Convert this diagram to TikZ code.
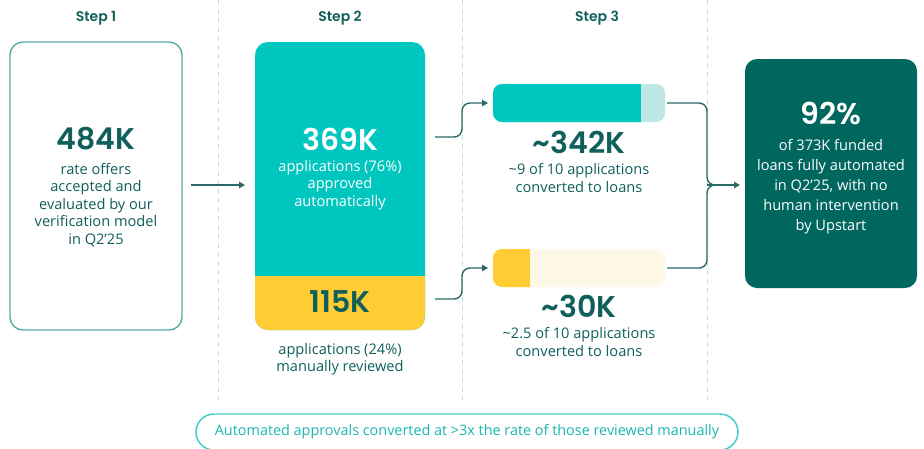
\documentclass[tikz,border=0pt]{standalone}
\usepackage{fontspec}
\setmainfont{Open Sans}
\newfontfamily\numfont{Poppins}[BoldFont=* SemiBold]
\usetikzlibrary{arrows.meta,calc}

\definecolor{tealmain}{HTML}{00C6C0}
\definecolor{tealpale}{HTML}{BFE7E5}
\definecolor{sunny}{HTML}{FFCC33}
\definecolor{cream}{HTML}{FEF8E6}
\definecolor{deepgreen}{HTML}{00675F}
\definecolor{inkteal}{HTML}{0F5F5B}
\definecolor{frameteal}{HTML}{5BA9A4}
\definecolor{linkteal}{HTML}{2A6966}
\definecolor{guide}{HTML}{B5E5E5}
\definecolor{pillteal}{HTML}{3CCBC8}
\definecolor{pilltext}{HTML}{1BB5B0}

\tikzset{
  panel/.style={rectangle, outer sep=0pt, inner sep=0pt, rounded corners=13pt},
  barbox/.style={rectangle, outer sep=0pt, inner sep=0pt, rounded corners=9pt,
    minimum width=172pt, minimum height=38pt},
  steplabel/.style={font=\numfont\bfseries\fontsize{14}{16}\selectfont, text=inkteal},
  bignum/.style={font=\numfont\bfseries\fontsize{30}{32}\selectfont, text=inkteal},
  body/.style={font=\fontsize{14.6}{17.5}\selectfont, text=inkteal, align=center},
  conn/.style={draw=linkteal, line width=1.4pt, rounded corners=8pt},
  tip/.style={-{Triangle[length=6pt,width=6.5pt]}},
  divider/.style={draw=guide, line width=0.9pt, dash pattern=on 5pt off 4pt},
}

\begin{document}
\begin{tikzpicture}[x=1pt,y=-1pt]
\useasboundingbox (0,0) rectangle (924,448);

% column dividers
\draw[divider] (218,0) -- (218,400);
\draw[divider] (462,0) -- (462,400);
\draw[divider] (707,0) -- (707,400);

% step headings
\node[steplabel] (h1) at (96,18) {Step 1};
\node[steplabel] (h2) at (340,18) {Step 2};
\node[steplabel] (h3) at (597,18) {Step 3};

% step 1 panel
\node[panel, draw=frameteal, line width=1.4pt, fill=white,
      minimum width=172pt, minimum height=288pt] (s1) at (96,186) {};
\node[bignum] (n1) at (96,139) {484K};
\node[body] (t1) at (96,205) {rate offers\\accepted and\\evaluated by our\\verification model\\in Q2’25};

% step 2 panel: automatic (teal) and manual (yellow) parts
\node[panel, fill=tealmain, minimum width=170pt, minimum height=288pt] (s2) at (340,186) {};
\begin{scope}
  \clip[rounded corners=13pt] (s2.north west) rectangle (s2.south east);
  \fill[sunny] (255,276) rectangle (425,331);
\end{scope}
\node[bignum, text=white] (n2) at (340,139) {369K};
\node[body, text=white] (t2) at (340,185) {applications (76\%)\\approved\\automatically};
\node[bignum] (n3) at (340,302) {115K};
\node[body] (t3) at (340,359) {applications (24\%)\\manually reviewed};

% step 3 conversion bars
\node[barbox, fill=tealpale] (b1) at (579,103) {};
\begin{scope}
  \clip[rounded corners=9pt] (b1.north west) rectangle (b1.south east);
  \fill[tealmain] (493,80) rectangle (641,126);
\end{scope}
\node[bignum] (n4) at (579,142) {\textasciitilde342K};
\node[body] (t4) at (579,178) {\textasciitilde9 of 10 applications\\converted to loans};

\node[barbox, fill=cream] (b2) at (579,268) {};
\begin{scope}
  \clip[rounded corners=9pt] (b2.north west) rectangle (b2.south east);
  \fill[sunny] (493,245) rectangle (530,292);
\end{scope}
\node[bignum] (n5) at (579,306) {\textasciitilde30K};
\node[body] (t5) at (579,342) {\textasciitilde2.5 of 10 applications\\converted to loans};

% outcome panel
\node[panel, fill=deepgreen, rounded corners=12pt,
      minimum width=172pt, minimum height=229pt] (fin) at (831,173.5) {};
\node[bignum, text=white] (n6) at (831,113) {92\%};
\node[body, text=white, font=\fontsize{14.6}{20}\selectfont] (t6) at (831,187)
  {of 373K funded\\loans fully automated\\in Q2’25, with no\\human intervention\\by Upstart};

% summary pill
\node[panel, draw=pillteal, line width=1.4pt, rounded corners=18pt,
      minimum width=542pt, minimum height=36pt,
      font=\fontsize{14.4}{16}\selectfont, text=pilltext] (pill) at (467,432)
  {Automated approvals converted at >3x the rate of those reviewed manually};

% connectors
\coordinate (a1) at (435,137);
\coordinate (a2) at (435,299);
\coordinate (jn) at (707,185);

\draw[conn, tip, rounded corners=0pt, shorten <=9pt, shorten >=10pt] (s1.east |- 0,185) -- (s2.west |- 0,185);
\draw[conn, tip, shorten >=5pt] (a1) -- (462,137) -- (462,103) -- (b1.west);
\draw[conn, tip, shorten >=5pt] (a2) -- (462,299) -- (462,268) -- (b2.west);
\draw[conn] ([xshift=2pt]b1.east) -- (jn |- b1.east) -- (jn) -- ++(12,0);
\draw[conn] ([xshift=2pt]b2.east) -- (jn |- b2.east) -- (jn) -- ++(12,0);
\draw[conn, tip, rounded corners=0pt, shorten >=5pt] (jn) -- (fin.west |- jn);
\end{tikzpicture}
\end{document}
